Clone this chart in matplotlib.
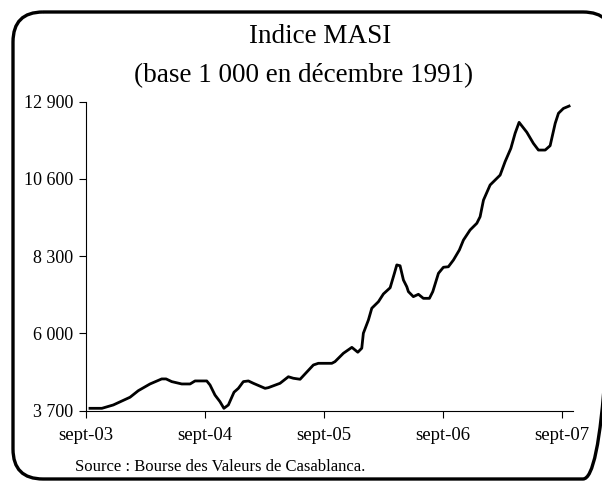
import matplotlib
matplotlib.use("Agg")
import matplotlib.pyplot as plt
from matplotlib.patches import FancyBboxPatch

# months elapsed since september 2003, and index level
months = [0.4, 1.6, 2.75, 4.44, 5.27, 6.45, 7.63, 8.07, 8.64, 9.65,
          10.49, 10.99, 12.17, 12.5, 13.0, 13.5, 13.9, 14.35, 14.92, 15.36,
          15.86, 16.37, 16.87, 18.05, 18.38, 19.56, 20.4, 20.9, 21.58, 22.92,
          23.42, 24.78, 25.1, 25.95, 26.8, 27.4, 27.8, 27.96, 28.47, 28.81,
          29.48, 29.98, 30.66, 31.09, 31.33, 31.66, 32.0, 32.34, 32.5, 33.0,
          33.51, 34.01, 34.62, 34.96, 35.53, 36.03, 36.53, 37.04, 37.64, 38.05,
          38.72, 39.4, 39.73, 40.07, 40.74, 41.75, 42.25, 42.83, 43.26, 43.66,
          44.44, 45.1, 45.61, 46.29, 46.79, 47.3, 47.63, 48.13, 48.7]
masi = [3770, 3770, 3870, 4100, 4295, 4495, 4645, 4645, 4565, 4495,
        4495, 4585, 4585, 4465, 4165, 3970, 3770, 3870, 4250, 4365,
        4565, 4585, 4515, 4365, 4385, 4515, 4710, 4665, 4635, 5060,
        5110, 5110, 5160, 5410, 5585, 5440, 5560, 6005, 6400, 6750,
        6945, 7175, 7360, 7790, 8040, 8015, 7590, 7390, 7245, 7095,
        7165, 7045, 7045, 7245, 7790, 7970, 7985, 8185, 8485, 8780,
        9080, 9280, 9475, 9970, 10420, 10715, 11115, 11510, 11960, 12285,
        11990, 11660, 11460, 11460, 11590, 12255, 12555, 12700, 12770]

x_ticks = [0, 12, 24, 36, 48]
x_labels = ["sept-03", "sept-04", "sept-05", "sept-06", "sept-07"]
y_ticks = [3700, 6000, 8300, 10600, 12900]
y_labels = ["3 700", "6 000", "8 300", "10 600", "12 900"]

plt.rcParams['font.family'] = ['Liberation Serif', 'DejaVu Serif']

fig = plt.figure(figsize=(6.02, 4.82), dpi=100)

# background axes in pixel units, holds the rounded frame
bg = fig.add_axes([0, 0, 1, 1], zorder=-1)
bg.set_xlim(0, 602)
bg.set_ylim(482, 0)
bg.axis("off")
frame = FancyBboxPatch((13, 12), 600, 467,
                       boxstyle="round,pad=0,rounding_size=30",
                       fill=False, edgecolor="black", linewidth=2.4,
                       clip_on=False)
bg.add_patch(frame)

ax = fig.add_axes([0.1429, 0.148, 0.809, 0.641])
ax.patch.set_alpha(0)
ax.plot(months, masi, color="black", linewidth=2)

ax.set_xlim(0, 49.1)
ax.set_ylim(3700, 12900)
ax.set_xticks(x_ticks)
ax.set_xticklabels(x_labels, fontsize=13.5)
ax.set_yticks(y_ticks)
ax.set_yticklabels(y_labels, fontsize=13)
ax.tick_params(axis="both", direction="out", length=5, width=0.8, color="black")
ax.tick_params(axis="x", pad=7)
ax.tick_params(axis="y", pad=4)
for side in ["top", "right"]:
    ax.spines[side].set_visible(False)
for side in ["left", "bottom"]:
    ax.spines[side].set_linewidth(0.8)

fig.text(0.532, 0.925, "Indice MASI", ha="center", va="center", fontsize=19.5)
fig.text(0.504, 0.843, "(base 1 000 en décembre 1991)", ha="center", va="center", fontsize=19.5)
fig.text(0.125, 0.031, "Source : Bourse des Valeurs de Casablanca.", ha="left",
         va="center", fontsize=12)

fig.savefig("out.png", dpi=100)
